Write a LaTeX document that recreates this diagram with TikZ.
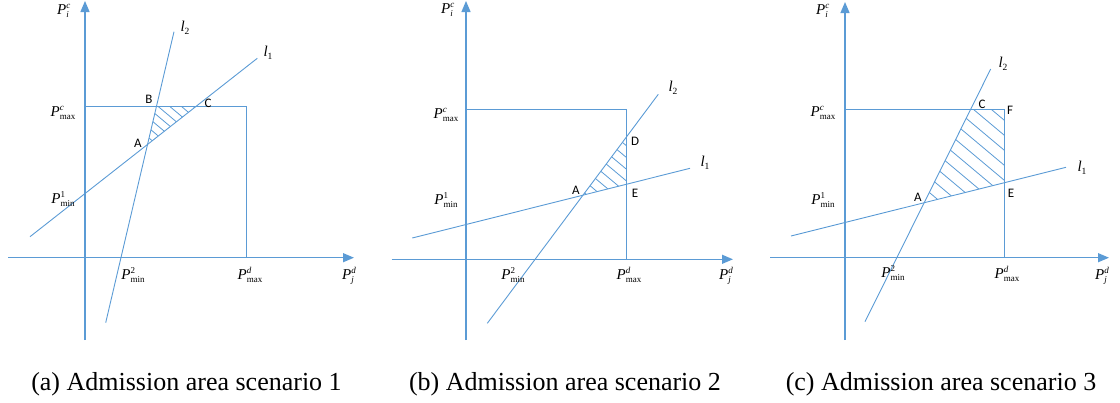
\documentclass[tikz,border=0pt]{standalone}
\usepackage{fontspec}
\setmainfont{Liberation Serif}
\newfontfamily\lettfont{Carlito}
\usetikzlibrary{arrows.meta,calc}
\definecolor{lineblue}{HTML}{5B9BD5}
\newcommand{\PL}[3]{\textit{#1}\kern0.2pt\makebox[0pt][l]{\raisebox{6.2pt}{\fontsize{9}{9}\selectfont #3}}\raisebox{-3.4pt}{\fontsize{9}{9}\selectfont #2}}
\tikzset{
  axis/.style={draw=lineblue,line width=1.3pt,-{Triangle[length=11pt,width=9pt]}},
  thinline/.style={draw=lineblue,line width=0.9pt},
  hatchline/.style={draw=lineblue,line width=0.8pt},
  plbl/.style={font=\fontsize{15}{15}\selectfont,inner sep=0pt},
  ptlbl/.style={font=\lettfont\fontsize{13}{13}\selectfont,inner sep=0pt},
  caption/.style={font=\fontsize{26}{26}\selectfont,inner sep=0pt,anchor=base}
}
\begin{document}
\begin{tikzpicture}[x=1pt,y=-1pt]
\useasboundingbox (0,0) rectangle (1120,402);

% ---------------- Panel (a) ----------------
\coordinate (aYb) at (85,340);
\coordinate (aYt) at (85,1);
\coordinate (aXl) at (8,257.7);
\coordinate (aXr) at (354,257.7);
\coordinate (aTL) at (85,106.7);
\coordinate (aTR) at (246.7,106.7);
\coordinate (aBR) at (246.7,257.7);
\coordinate (aL1s) at (30,236.7);
\coordinate (aL1e) at (257.3,58.3);
\coordinate (aL2s) at (105.7,322.7);
\coordinate (aL2e) at (174,31.7);
\coordinate (aA) at (intersection of aL1s--aL1e and aL2s--aL2e);
\coordinate (aB) at (intersection of aL2s--aL2e and aTL--aTR);
\coordinate (aC) at (intersection of aL1s--aL1e and aTL--aTR);

\begin{scope}
\clip (aA) -- (aB) -- (aC) -- cycle;
\foreach \k in {-8,...,8}
  \draw[hatchline] ($(aB)+({-61.3-\k*7.5*0.643},{-51.4+\k*7.5*0.766})+(2,0)$) -- ++(122.6,102.8);
\end{scope}
\draw[thinline] (aTL) -- (aTR) -- (aBR);
\draw[thinline] (aL1s) -- (aL1e);
\draw[thinline] (aL2s) -- (aL2e);
\draw[axis] (aYb) -- (aYt);
\draw[axis] (aXl) -- (aXr);

\node[plbl] (aPic) at (63,11) {\PL{P}{\textit{i}}{\textit{c}}};
\node[plbl] (aPmaxc) at (63,113) {\PL{P}{max}{\textit{c}}};
\node[plbl] (aPmin1) at (63,199) {\PL{P}{min}{1}};
\node[plbl] (aPmin2) at (133,275) {\PL{P}{min}{2}};
\node[plbl] (aPmaxd) at (250,275) {\PL{P}{max}{\textit{d}}};
\node[plbl] (aPjd) at (348,276) {\PL{P}{\textit{j}}{\textit{d}}};
\node[plbl] (al2) at (185,28) {\textit{l}\raisebox{-3pt}{\fontsize{9.5}{9.5}\selectfont 2}};
\node[plbl] (al1) at (268,53) {\textit{l}\raisebox{-3pt}{\fontsize{9.5}{9.5}\selectfont 1}};
\node[ptlbl] (aAl) at (138,143) {A};
\node[ptlbl] (aBl) at (149,99) {B};
\node[ptlbl] (aCl) at (208,103) {C};
\node[caption] (capa) at (186.5,390) {(a) Admission area scenario 1};

% ---------------- Panel (b) ----------------
\coordinate (bYb) at (466,340);
\coordinate (bYt) at (466,1);
\coordinate (bXl) at (391.7,259.3);
\coordinate (bXr) at (733,259.3);
\coordinate (bTL) at (466,109.3);
\coordinate (bTR) at (626.7,109.3);
\coordinate (bBR) at (626.7,259.3);
\coordinate (bL1s) at (412.3,238);
\coordinate (bL1e) at (690,168.3);
\coordinate (bL2s) at (487.3,323.3);
\coordinate (bL2e) at (658.3,94.3);
\coordinate (bA) at (intersection of bL1s--bL1e and bL2s--bL2e);
\coordinate (bD) at (intersection of bL2s--bL2e and bTR--bBR);
\coordinate (bE) at (intersection of bL1s--bL1e and bTR--bBR);

\begin{scope}
\clip (bA) -- (bD) -- (bE) -- cycle;
\foreach \k in {-10,...,10}
  \draw[hatchline] ($(bE)+({-61.3-\k*9*0.643},{-51.4+\k*9*0.766})+(0,-3)$) -- ++(122.6,102.8);
\end{scope}
\draw[thinline] (bTL) -- (bTR) -- (bBR);
\draw[thinline] (bL1s) -- (bL1e);
\draw[thinline] (bL2s) -- (bL2e);
\draw[axis] (bYb) -- (bYt);
\draw[axis] (bXl) -- (bXr);

\node[plbl] (bPic) at (447,10) {\PL{P}{\textit{i}}{\textit{c}}};
\node[plbl] (bPmaxc) at (446,115) {\PL{P}{max}{\textit{c}}};
\node[plbl] (bPmin1) at (446,200) {\PL{P}{min}{1}};
\node[plbl] (bPmin2) at (513,275) {\PL{P}{min}{2}};
\node[plbl] (bPmaxd) at (629,275) {\PL{P}{max}{\textit{d}}};
\node[plbl] (bPjd) at (725,276) {\PL{P}{\textit{j}}{\textit{d}}};
\node[plbl] (bl2) at (673,88) {\textit{l}\raisebox{-3pt}{\fontsize{9.5}{9.5}\selectfont 2}};
\node[plbl] (bl1) at (705,163) {\textit{l}\raisebox{-3pt}{\fontsize{9.5}{9.5}\selectfont 1}};
\node[ptlbl] (bAl) at (576,190) {A};
\node[ptlbl] (bDl) at (635,141) {D};
\node[ptlbl] (bEl) at (635,193) {E};
\node[caption] (capb) at (565,390) {(b) Admission area scenario 2};

% ---------------- Panel (c) ----------------
\coordinate (cYb) at (845,340);
\coordinate (cYt) at (845,2);
\coordinate (cXl) at (770,257.7);
\coordinate (cXr) at (1109,257.7);
\coordinate (cTL) at (845,109);
\coordinate (cF) at (1004,109);
\coordinate (cBR) at (1004,257.7);
\coordinate (cL1s) at (791,236);
\coordinate (cL1e) at (1066,167.3);
\coordinate (cL2s) at (865,321.7);
\coordinate (cL2e) at (990.7,69);
\coordinate (cA) at (intersection of cL1s--cL1e and cL2s--cL2e);
\coordinate (cC) at (intersection of cL2s--cL2e and cTL--cF);
\coordinate (cE) at (intersection of cL1s--cL1e and cF--cBR);

\begin{scope}
\clip (cA) -- (cC) -- (cF) -- (cE) -- cycle;
\foreach \k in {-14,...,14}
  \draw[hatchline] ($(cF)+({-61.3-\k*11.5*0.643},{-51.4+\k*11.5*0.766})+(0,-4)$) -- ++(122.6,102.8);
\end{scope}
\draw[thinline] (cTL) -- (cF) -- (cBR);
\draw[thinline] (cL1s) -- (cL1e);
\draw[thinline] (cL2s) -- (cL2e);
\draw[axis] (cYb) -- (cYt);
\draw[axis] (cXl) -- (cXr);

\node[plbl] (cPic) at (822,11) {\PL{P}{\textit{i}}{\textit{c}}};
\node[plbl] (cPmaxc) at (823,113) {\PL{P}{max}{\textit{c}}};
\node[plbl] (cPmin1) at (823,200) {\PL{P}{min}{1}};
\node[plbl] (cPmin2) at (893,273) {\PL{P}{min}{2}};
\node[plbl] (cPmaxd) at (1007,274) {\PL{P}{max}{\textit{d}}};
\node[plbl] (cPjd) at (1101,276) {\PL{P}{\textit{j}}{\textit{d}}};
\node[plbl] (cl2) at (1003,64) {\textit{l}\raisebox{-3pt}{\fontsize{9.5}{9.5}\selectfont 2}};
\node[plbl] (cl1) at (1082,168) {\textit{l}\raisebox{-3pt}{\fontsize{9.5}{9.5}\selectfont 1}};
\node[ptlbl] (cAl) at (918,197) {A};
\node[ptlbl] (cCl) at (982,104) {C};
\node[ptlbl] (cFl) at (1010,110) {F};
\node[ptlbl] (cEl) at (1011,193) {E};
\node[caption] (capc) at (941,390) {(c) Admission area scenario 3};
\end{tikzpicture}
\end{document}
